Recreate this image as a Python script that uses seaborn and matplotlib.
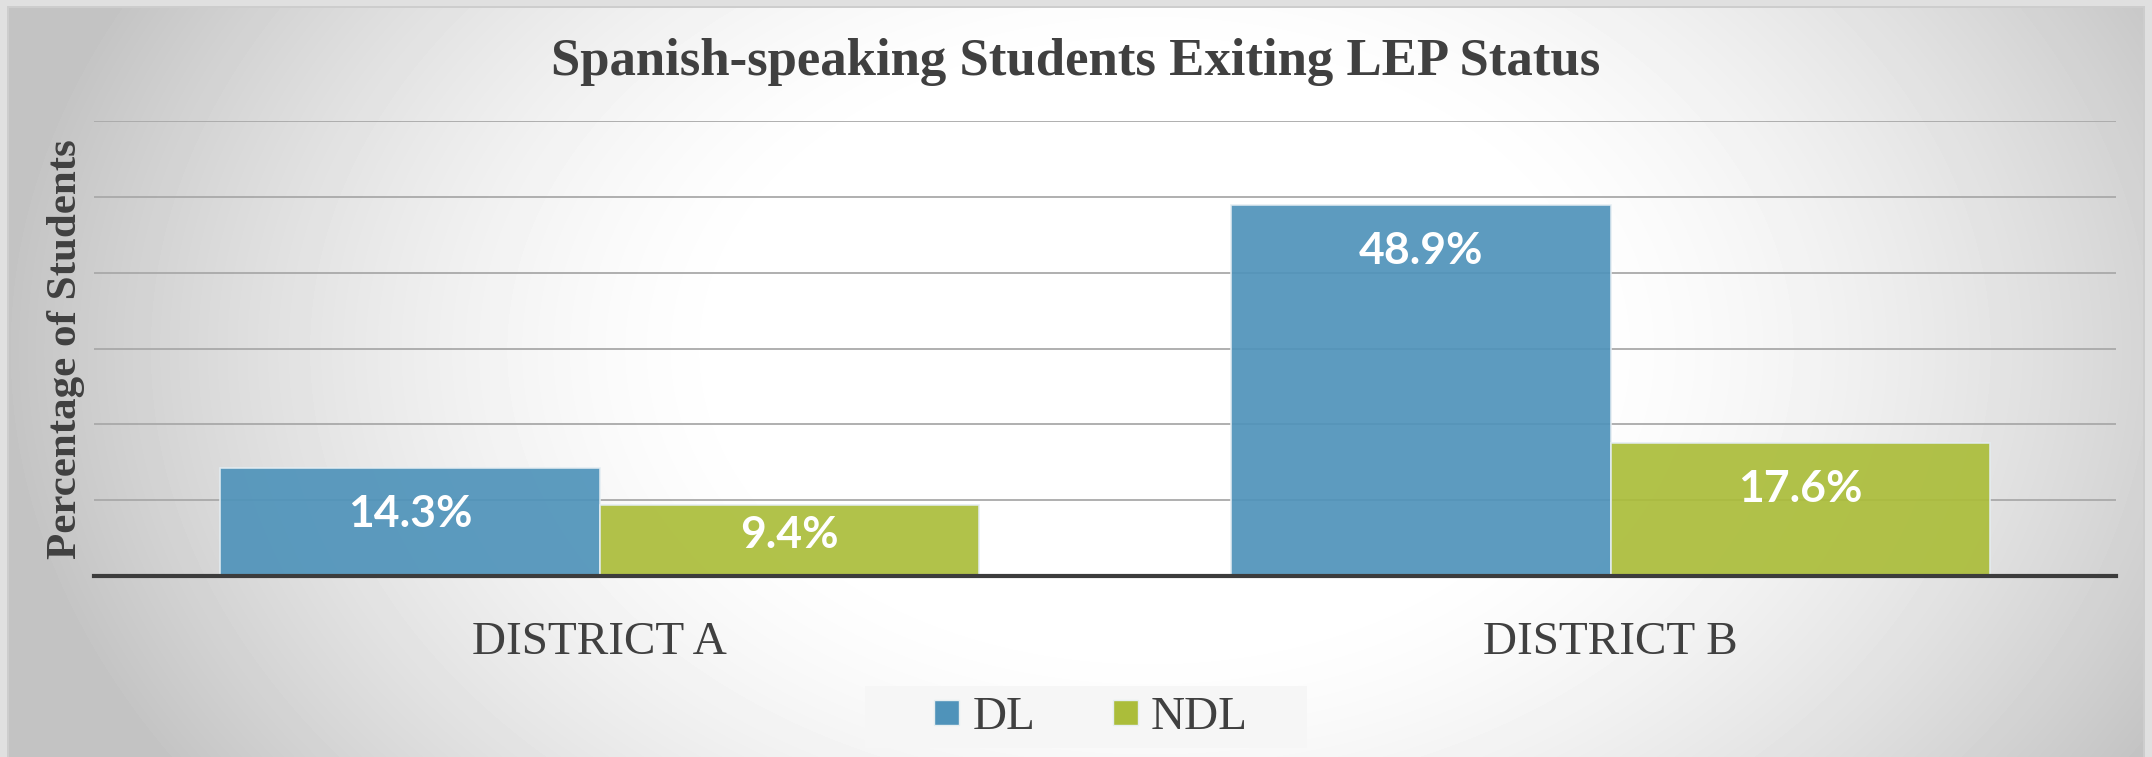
import numpy as np
import pandas as pd
import matplotlib
matplotlib.use("Agg")
import matplotlib.pyplot as plt
from matplotlib.lines import Line2D
from matplotlib.patches import Rectangle
from matplotlib.font_manager import FontProperties
import seaborn as sns

# Chart data
districts = ["DISTRICT A", "DISTRICT B"]
programs = ["DL", "NDL"]
dl_values = [14.3, 48.9]
ndl_values = [9.4, 17.6]
title = "Spanish-speaking Students Exiting LEP Status"
y_label = "Percentage of Students"

df = pd.DataFrame({
    "District": districts * 2,
    "Program": ["DL"] * len(districts) + ["NDL"] * len(districts),
    "Value": dl_values + ndl_values,
})

sns.set_theme(style="white")
SERIF = ["Liberation Serif", "DejaVu Serif"]
plt.rcParams["font.family"] = SERIF

W, H, DPI = 2152, 757, 100
TEXT = "#404040"
palette = {"DL": "#4f93ba", "NDL": "#abbd3a"}

fig = plt.figure(figsize=(W / DPI, H / DPI), dpi=DPI)

# Backdrop: light outer frame with a soft radial gray-to-white panel
yy, xx = np.mgrid[0:H, 0:W].astype(float)
r = np.sqrt(((xx - 1150) / 1150) ** 2 + ((yy - 350) / 800) ** 2)
t = np.clip((r - 0.35) / 0.65, 0, 1) ** 1.5
panel = 255 - 60 * t
bg = np.full((H, W), 224.0)
inside = (xx >= 7) & (xx < 2145) & (yy >= 6)
bg[inside] = panel[inside]
edge = inside & ((xx < 9) | (xx >= 2143) | (yy < 8))
bg[edge] = 205
bg_ax = fig.add_axes([0, 0, 1, 1], zorder=-10)
bg_ax.imshow(bg, cmap="gray", vmin=0, vmax=255, aspect="auto",
             interpolation="bilinear")
bg_ax.set_axis_off()

# Plot area in pixel terms: x 94..2116, y 121..576
left, right, top, bottom = 94, 2116, 121, 576
ax = fig.add_axes([left / W, 1 - bottom / H, (right - left) / W, (bottom - top) / H])
ax.set_facecolor("none")

sns.barplot(data=df, x="District", y="Value", hue="Program", order=districts,
            hue_order=programs, palette=palette, width=0.75, saturation=1,
            alpha=0.92, edgecolor="#e4edf2", linewidth=1.2, legend=False, ax=ax)

ax.set_xlim(-0.5, 1.5)
ax.set_ylim(0, 60)
ax.set_yticks(np.arange(0, 61, 10))
ax.set_axisbelow(True)
ax.yaxis.grid(True, color="#a9a9a9", linewidth=1.3)
ax.xaxis.grid(False)
ax.tick_params(axis="y", left=False, labelleft=False)
ax.tick_params(axis="x", bottom=False, pad=27, labelsize=34, labelcolor=TEXT)
for lbl in ax.get_xticklabels():
    lbl.set_family(SERIF)
for s in ["left", "right", "top"]:
    ax.spines[s].set_visible(False)
ax.spines["bottom"].set_color("#3c3c3c")
ax.spines["bottom"].set_linewidth(3)
ax.spines["bottom"].set_zorder(5)
ax.set_xlabel("")
ax.set_ylabel("")

# Value labels inside the top of each bar
px_per_unit = (bottom - top) / 60
for bar in ax.patches:
    h = bar.get_height()
    if not np.isfinite(h) or h <= 0:
        continue
    off_px = min(46, 0.43 * h * px_per_unit)
    ax.annotate(f"{h:.1f}%", (bar.get_x() + bar.get_width() / 2, h),
                xytext=(0, -off_px * 72 / DPI), textcoords="offset points",
                ha="center", va="center", color="white", fontsize=32,
                fontweight="bold", family=["Lato", "DejaVu Sans"], zorder=6)

fig.text(1076 / W, 1 - 75 / H, title, ha="center", va="baseline",
         fontsize=38, fontweight="bold", color=TEXT, family=SERIF)
fig.text(66 / W, 1 - 349 / H, y_label, ha="center", va="center", rotation=90,
         fontsize=31, fontweight="bold", color=TEXT, family=SERIF)

# Legend on a pale strip
fig.patches.append(Rectangle((865 / W, 1 - 748 / H), 442 / W, 62 / H,
                             transform=fig.transFigure, facecolor="#f6f6f6",
                             edgecolor="none", zorder=1))
handles = [Line2D([], [], marker="s", ls="", markersize=18,
                  markerfacecolor=palette[p], markeredgecolor="#e6eef0",
                  markeredgewidth=1) for p in programs]
legend_font = FontProperties(family="Liberation Serif", size=34)
leg = fig.legend(handles, programs, loc="center",
                 bbox_to_anchor=(1090 / W, 1 - 717 / H), ncol=2, frameon=False,
                 handlelength=0.6, handletextpad=0.25, columnspacing=1.6,
                 prop=legend_font)
for txt in leg.get_texts():
    txt.set_color(TEXT)

fig.savefig("out.png", dpi=DPI)
